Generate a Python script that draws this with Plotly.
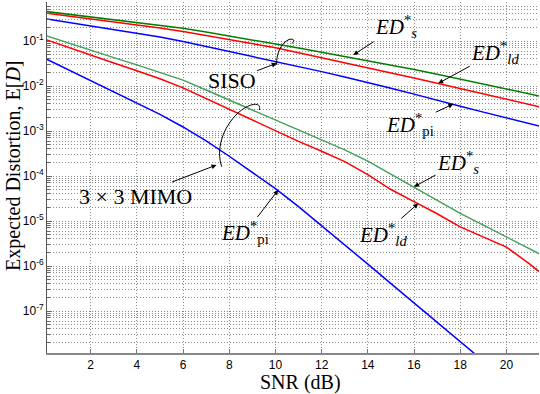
import plotly.graph_objects as go

# SNR em dB
snr = [0, 1, 2, 3, 4, 5, 6, 7, 8, 9, 10, 11, 12, 13, 14, 15, 16, 17, 18, 19, 20, 21, 21.5]
snr_mimo_pi = snr[:20]

# SISO
siso_s = [0.457, 0.398, 0.347, 0.302, 0.263, 0.229, 0.193, 0.158, 0.130, 0.107, 0.0871, 0.0700,
          0.0562, 0.0452, 0.0363, 0.0292, 0.0232, 0.0182, 0.0141, 0.0110, 0.00851, 0.00661, 0.00589]
siso_ld = [0.422, 0.363, 0.309, 0.266, 0.226, 0.195, 0.162, 0.132, 0.107, 0.0871, 0.0708, 0.0550,
           0.0427, 0.0331, 0.0257, 0.0200, 0.0151, 0.0115, 0.00871, 0.00661, 0.00513, 0.00389, 0.00339]
siso_pi = [0.316, 0.263, 0.219, 0.182, 0.151, 0.123, 0.0977, 0.0759, 0.0589, 0.0457, 0.0355, 0.0275,
           0.0209, 0.0158, 0.0120, 0.00891, 0.00661, 0.00479, 0.00355, 0.00263, 0.00195, 0.00145, 0.00126]

# 3x3 MIMO
mimo_s = [0.135, 0.0912, 0.0631, 0.0427, 0.0295, 0.0200, 0.0135, 8.13e-3, 4.90e-3, 2.95e-3, 1.74e-3,
          1.05e-3, 6.31e-4, 3.80e-4, 2.14e-4, 1.10e-4, 5.62e-5, 2.88e-5, 1.48e-5, 8.13e-6, 4.47e-6,
          2.45e-6, 1.78e-6]
mimo_ld = [0.110, 0.0724, 0.0490, 0.0324, 0.0219, 0.0145, 9.12e-3, 5.25e-3, 3.02e-3, 1.74e-3, 1.00e-3,
           5.89e-4, 3.55e-4, 2.09e-4, 1.07e-4, 5.01e-5, 2.69e-5, 1.45e-5, 7.41e-6, 4.47e-6, 2.63e-6,
           1.12e-6, 6.92e-7]
mimo_pi = [0.0417, 0.0234, 0.0132, 7.41e-3, 4.17e-3, 2.34e-3, 1.23e-3, 6.03e-4, 2.75e-4, 1.20e-4,
           5.25e-5, 2.09e-5, 7.94e-6, 2.95e-6, 1.10e-6, 4.07e-7, 1.51e-7, 5.62e-8, 2.09e-8, 7.76e-9]

x_ticks = [2, 4, 6, 8, 10, 12, 14, 16, 18, 20]
y_exps = [-1, -2, -3, -4, -5, -6, -7]

W, H = 540, 394
ML, MR, MT, MB = 47, 1, 2, 41
SERIF = "Liberation Serif"
SANS = "Liberation Sans"
GRID = "#8c8c8c"
DOT = "1px,2px"

fig = go.Figure()
linhas = [
    (snr, siso_s, "#008000"), (snr, siso_ld, "#ff0000"), (snr, siso_pi, "#0000ff"),
    (snr, mimo_s, "#44a05a"), (snr, mimo_ld, "#ff0000"), (snr_mimo_pi, mimo_pi, "#0000ff"),
]
for xs, ys, cor in linhas:
    fig.add_trace(go.Scatter(x=xs, y=ys, mode="lines", line=dict(color=cor, width=1.5),
                             showlegend=False, hoverinfo="skip"))


def paper(px, py):
    # pixel -> coordenadas "paper"
    return (px - ML) / (W - ML - MR), (H - MB - py) / (H - MT - MB)


def path(pts):
    s = ""
    cmds = ["M", "C", "", "", "C", "", ""]
    for c, (px, py) in zip(cmds, pts):
        x, y = paper(px, py)
        s += f"{c}{x:.4f},{y:.4f} "
    return s.strip()


# arcos que agrupam as curvas
arc_mimo = [(221.7, 166.7), (216, 150), (222, 128), (238, 113), (249, 103), (262, 101), (259.3, 110)]
arc_siso = [(276.7, 65), (276, 54), (281, 43), (289, 39.5), (294.5, 38), (295, 41.5), (291.7, 43.5)]
for arc in (arc_mimo, arc_siso):
    fig.add_shape(type="path", path=path(arc), xref="paper", yref="paper",
                  line=dict(color="black", width=1))


def ed(sub):
    return f"<i>ED</i><sup>*</sup><sub>{sub}</sub>"


# (texto, x da ponta, log10 y da ponta, ax, ay)
notas = [
    (ed("<i>s</i>"), 13.37, -1.31, 43, -28),
    (ed("<i>ld</i>"), 17.05, -1.94, 57, -31),
    (ed("pi"), 17.7, -2.40, -43, 20),
    (ed("<i>s</i>"), 16.0, -4.24, 44, -24),
    (ed("<i>ld</i>"), 16.18, -4.61, -35, 31),
    (ed("pi"), 10.12, -4.31, -33, 43),
]
for txt, x, y, ax, ay in notas:
    fig.add_annotation(x=x, y=y, xref="x", yref="y", text=txt, showarrow=True,
                       ax=ax, ay=ay, arrowhead=2, arrowsize=1, arrowwidth=1, arrowcolor="black",
                       font=dict(family=SERIF, size=21, color="black"))

for txt, (px, py), ax, ay in [("SISO", (276.7, 63.3), -45, 17),
                              ("3 × 3 MIMO", (216.5, 165), -81, 31)]:
    x, y = paper(px, py)
    fig.add_annotation(x=x, y=y, xref="paper", yref="paper", text=txt, showarrow=True,
                       ax=ax, ay=ay, arrowhead=2, arrowsize=1, arrowwidth=1, arrowcolor="black",
                       font=dict(family=SERIF, size=22, color="black"))

# títulos dos eixos
tx, ty = paper(13, 166)
fig.add_annotation(x=tx, y=ty, xref="paper", yref="paper", text="Expected Distortion, E[<i>D</i>]",
                   textangle=-90, showarrow=False, xanchor="center", yanchor="middle",
                   font=dict(family=SERIF, size=20, color="black"))
tx, ty = paper(300, 383)
fig.add_annotation(x=tx, y=ty, xref="paper", yref="paper", text="SNR (dB)",
                   showarrow=False, xanchor="center", yanchor="middle",
                   font=dict(family=SERIF, size=20, color="black"))

fig.update_layout(
    width=W, height=H,
    margin=dict(l=ML, r=MR, t=MT, b=MB),
    plot_bgcolor="white", paper_bgcolor="white",
    font=dict(family=SANS, size=12, color="black"),
)
fig.update_xaxes(
    range=[0.11, 21.41], tickvals=x_ticks, ticks="inside", ticklen=4, tickcolor="#777",
    showline=True, linecolor="#888", linewidth=2, mirror=False,
    showgrid=True, gridcolor=GRID, griddash=DOT, gridwidth=1, zeroline=False,
    tickfont=dict(family=SANS, size=12),
)
minor_vals = [m * 10 ** e for e in range(-8, 0) for m in range(2, 10)]
fig.update_yaxes(
    type="log", range=[-7.933, -0.133],
    tickvals=[10 ** e for e in y_exps], ticktext=[f"10<sup>{e}</sup>" for e in y_exps],
    ticks="inside", ticklen=5, tickcolor="#666",
    showline=True, linecolor="#555", linewidth=1,
    showgrid=True, gridcolor=GRID, griddash=DOT, gridwidth=1, zeroline=False,
    minor=dict(tickvals=minor_vals, ticks="inside", ticklen=3, tickcolor="#666", showgrid=True,
               gridcolor=GRID, griddash=DOT, gridwidth=1),
    tickfont=dict(family=SANS, size=12),
)

fig.write_html("out.html", config={"displayModeBar": False},
               post_script="document.body.style.margin='0px';")
